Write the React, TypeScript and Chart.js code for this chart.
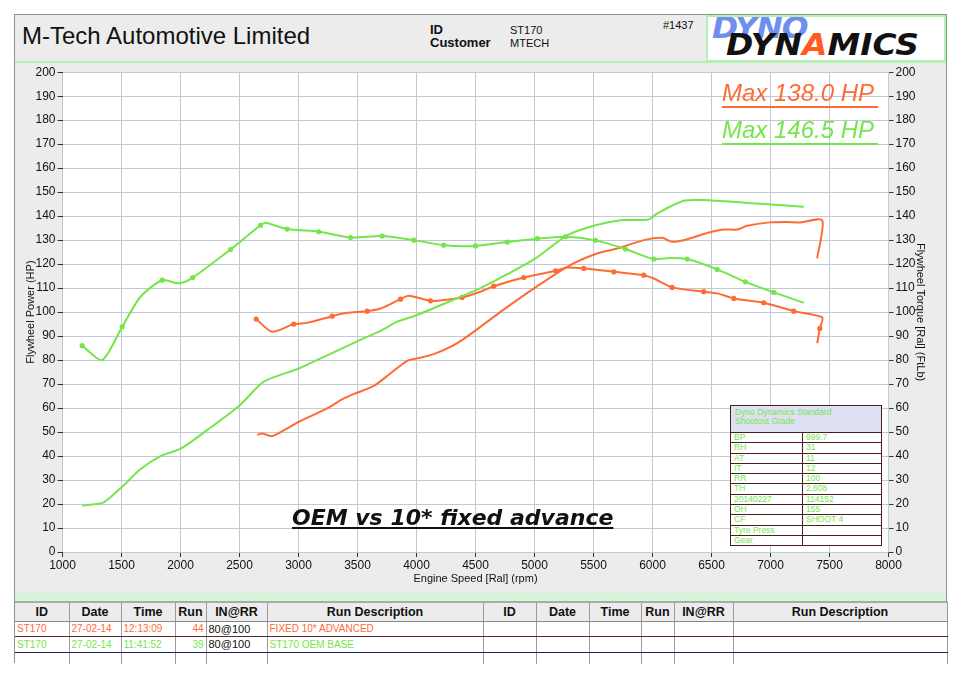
import Chart from 'chart.js/auto';
import { useEffect, useRef } from 'react';

// engine speed (rpm) and readings for each run
const oemPowerRpm = [1167, 1250, 1350, 1506, 1660, 1830, 2006, 2226, 2503, 2706, 3003, 3243, 3497, 3709, 3836, 4006, 4373, 4542, 4770, 5008, 5277, 5517, 5729, 5968, 6039, 6265, 6434, 6802, 7282];
const oemPower = [19.3, 19.8, 20.7, 27.2, 34.5, 40, 43.2, 50.8, 61.2, 71, 76.5, 82, 87.8, 92.5, 96, 98.8, 106.4, 110, 115.8, 122.4, 132, 136.2, 138.3, 138.6, 141.1, 146.4, 146.7, 145.5, 143.9];

const oemTorqueRpm = [1167, 1336, 1506, 1661, 1845, 1986, 2104, 2424, 2678, 2720, 2904, 3172, 3441, 3709, 3977, 4231, 4500, 4769, 5023, 5263, 5517, 5771, 6011, 6153, 6294, 6548, 6788, 7028, 7282];
const oemTorque = [86, 80, 93.9, 106.4, 113.3, 112, 114.4, 126.1, 136.2, 137.2, 134.6, 133.5, 131.1, 131.7, 130, 127.9, 127.6, 129.2, 130.6, 131.4, 129.9, 126.3, 122.1, 122.6, 122.1, 117.8, 112.6, 108.2, 103.9];
const oemTorqueDots = [1167, 1506, 1845, 2104, 2424, 2678, 2904, 3172, 3441, 3709, 3977, 4231, 4500, 4769, 5023, 5263, 5517, 5771, 6011, 6294, 6548, 6788, 7028];

const advPowerRpm = [2650, 2692, 2777, 2904, 3003, 3243, 3384, 3497, 3638, 3780, 3921, 4006, 4147, 4316, 4458, 4712, 5008, 5277, 5517, 5700, 5926, 6081, 6167, 6294, 6463, 6604, 6718, 6802, 7000, 7141, 7254, 7438, 7396];
const advPower = [48.8, 49.4, 48.3, 51.5, 54.3, 59.9, 64, 66.4, 69.2, 74.5, 79.7, 80.7, 82.5, 86.2, 90.8, 100.1, 110.3, 118.9, 124.2, 126.5, 130, 131, 129.3, 130.4, 133, 134.4, 134.4, 136, 137.4, 137.6, 137.4, 138.3, 122.4];

const advTorqueRpm = [2641, 2777, 2960, 3073, 3285, 3412, 3582, 3695, 3864, 3935, 4119, 4288, 4387, 4542, 4655, 4909, 5178, 5277, 5418, 5672, 5926, 6011, 6167, 6434, 6548, 6689, 6943, 7197, 7438, 7418, 7396];
const advTorque = [97.1, 91.8, 95, 95.5, 98.3, 99.7, 100.4, 101.5, 105.4, 106.8, 104.7, 105.4, 106.1, 108.5, 110.8, 114.4, 117.2, 118.6, 118.2, 116.8, 115.4, 114, 110.3, 108.5, 107.8, 105.7, 103.9, 100.4, 97.8, 93.2, 87];
const advTorqueDots = [2641, 2960, 3285, 3582, 3864, 4119, 4387, 4655, 4909, 5178, 5418, 5672, 5926, 6167, 6434, 6689, 6943, 7197, 7418];

const infoLabels = ['BP', 'RH', 'AT', 'IT', 'RR', 'TH', '20140227', 'OH', 'CF', 'Tyre Press', 'Gear'];
const infoValues = ['999.7', '31', '11', '12', '100', '2.608', '114152', '155', 'SHOOT 4', '', ''];

const tableHeads = ['ID', 'Date', 'Time', 'Run', 'IN@RR', 'Run Description', 'ID', 'Date', 'Time', 'Run', 'IN@RR', 'Run Description'];
const colWidths = [54, 52, 54, 31, 61, 216, 53, 53, 52, 33, 59, 214];
const runAdvanced = ['ST170', '27-02-14', '12:13:09', '44', '80@100', 'FIXED 10* ADVANCED'];
const runOem = ['ST170', '27-02-14', '11:41:52', '39', '80@100', 'ST170 OEM BASE'];

const ORANGE = '#ff6a35';
const GREEN = '#74e64b';
const NARROW = "'Liberation Sans Narrow', 'Liberation Sans', Arial, sans-serif";
const SANS = "'Liberation Sans', Arial, sans-serif";

const pts = (xs: number[], ys: number[]) => xs.map((x, i) => ({ x, y: ys[i] }));

const DynoChart = () => {
  const chartRef = useRef<HTMLCanvasElement | null>(null);

  useEffect(() => {
    if (!chartRef.current) return;
    const ctx = chartRef.current.getContext('2d');
    if (!ctx) return;

    const whiteArea = {
      id: 'whiteArea',
      beforeDraw: (chart: Chart) => {
        const { left, top, width, height } = chart.chartArea;
        chart.ctx.save();
        chart.ctx.fillStyle = '#ffffff';
        chart.ctx.fillRect(left, top, width, height);
        chart.ctx.restore();
      },
    };

    const dotted = (dots: number[]) => (c: any) => (c.raw && dots.includes(c.raw.x) ? 2.6 : 0);
    const plain = (v: any) => String(v);

    const tickFont = { family: NARROW, size: 12 };

    const chartInstance = new Chart(ctx, {
      type: 'line',
      data: {
        datasets: [
          { label: 'OEM power', data: pts(oemPowerRpm, oemPower), borderColor: GREEN, backgroundColor: GREEN, yAxisID: 'y', pointRadius: 0 },
          { label: 'OEM torque', data: pts(oemTorqueRpm, oemTorque), borderColor: GREEN, backgroundColor: GREEN, yAxisID: 'y2', pointRadius: dotted(oemTorqueDots) },
          { label: 'Advanced power', data: pts(advPowerRpm, advPower), borderColor: ORANGE, backgroundColor: ORANGE, yAxisID: 'y', pointRadius: 0 },
          { label: 'Advanced torque', data: pts(advTorqueRpm, advTorque), borderColor: ORANGE, backgroundColor: ORANGE, yAxisID: 'y2', pointRadius: dotted(advTorqueDots) },
        ],
      },
      options: {
        animation: false,
        responsive: false,
        maintainAspectRatio: false,
        layout: { padding: { top: 9, left: 0, right: 0, bottom: 0 } },
        elements: {
          line: { borderWidth: 2, tension: 0.25 },
          point: { borderWidth: 0, hoverRadius: 0 },
        },
        plugins: { legend: { display: false }, tooltip: { enabled: false } },
        scales: {
          x: {
            type: 'linear',
            min: 1000,
            max: 8000,
            ticks: { stepSize: 500, color: '#111', font: tickFont, padding: 1, maxRotation: 0, callback: plain },
            grid: { color: '#c3c8d4', tickColor: '#333', tickLength: 5 },
            border: { display: false },
            title: { display: true, text: 'Engine Speed [Ral] (rpm)', color: '#111', font: { family: NARROW, size: 11 }, padding: { top: 0, bottom: 7 } },
            afterFit: (s: any) => { s.height = 41; },
          },
          y: {
            position: 'left',
            min: 0,
            max: 200,
            ticks: { stepSize: 10, color: '#111', font: tickFont, padding: 2, callback: plain },
            grid: { color: '#c3c8d4', tickColor: '#333', tickLength: 5 },
            border: { display: false },
            title: { display: true, text: 'Flywheel Power (HP)', color: '#111', font: { family: NARROW, size: 11 }, padding: { top: 9, bottom: 0 } },
            afterFit: (s: any) => { s.width = 47.5; },
          },
          y2: {
            position: 'right',
            min: 0,
            max: 200,
            ticks: { stepSize: 10, color: '#111', font: tickFont, padding: 2, callback: plain },
            grid: { drawOnChartArea: false, tickColor: '#333', tickLength: 5 },
            border: { display: false },
            title: { display: true, text: 'Flywheel Torque [Ral] (FtLb)', color: '#111', font: { family: NARROW, size: 11 }, padding: { top: 18, bottom: 0 } },
            afterFit: (s: any) => { s.width = 56.5; },
          },
        },
      },
      plugins: [whiteArea],
    });

    return () => {
      chartInstance.destroy();
    };
  }, []);

  return <canvas ref={chartRef} width={930} height={530} style={{ position: 'absolute', left: 15, top: 63, width: 930, height: 530 }}></canvas>;
};

const abs = (left: number, top: number, extra: React.CSSProperties = {}): React.CSSProperties => ({ position: 'absolute', left, top, ...extra });

const App = () => {
  const cell: React.CSSProperties = { borderRight: '1px solid #9a9a9a', padding: '0 2px', whiteSpace: 'nowrap', overflow: 'hidden' };
  const logoFont = "'DejaVu Sans', sans-serif";
  return (
    <div style={{ position: 'fixed', left: 0, top: 0, width: 960, height: 679, background: '#ffffff', fontFamily: SANS, overflow: 'hidden' }}>
      <div style={abs(14, 14, { width: 931, height: 647, background: '#ececec', border: '1px solid #869886' })}></div>

      {/* header */}
      <div style={abs(15, 61, { width: 931, height: 2, background: '#b4f0b4' })}></div>
      <div style={abs(22, 22, { fontSize: 24, color: '#111', lineHeight: '28px' })}>M-Tech Automotive Limited</div>
      <div style={abs(430, 23, { fontSize: 13, fontWeight: 'bold', lineHeight: '13px', color: '#111' })}>ID<br />Customer</div>
      <div style={abs(510, 24, { fontSize: 11, lineHeight: '13px', color: '#111', fontFamily: NARROW })}>ST170<br />MTECH</div>
      <div style={abs(663, 19, { fontSize: 11, color: '#111', fontFamily: NARROW })}>#1437</div>
      <div style={abs(706, 15, { width: 236, height: 43, background: '#fff', border: '2px solid #b4f0b4', overflow: 'hidden' })}>
        <div style={abs(4, -7, { fontSize: 30, fontWeight: 900, fontStyle: 'italic', color: '#6f8ff0', fontFamily: logoFont, letterSpacing: -1, transform: 'scaleX(1.05)', transformOrigin: 'left' })}>DYNO</div>
        <div style={abs(18, 9, { fontSize: 31, fontWeight: 900, fontStyle: 'italic', color: '#111', fontFamily: logoFont, letterSpacing: 0, transform: 'scaleX(1.06)', transformOrigin: 'left', whiteSpace: 'nowrap' })}>
          DYN<span style={{ color: '#ff5a1f' }}>A</span>MICS
        </div>
      </div>

      <DynoChart />

      {/* max labels */}
      <div style={abs(722, 80, { fontSize: 24, fontStyle: 'italic', color: ORANGE, width: 156, borderBottom: `2px solid ${ORANGE}`, lineHeight: '26px' })}>Max 138.0 HP</div>
      <div style={abs(722, 117, { fontSize: 24, fontStyle: 'italic', color: GREEN, width: 156, borderBottom: `2px solid ${GREEN}`, lineHeight: '26px' })}>Max 146.5 HP</div>

      {/* caption */}
      <div style={abs(292, 505, { fontSize: 22, fontWeight: 'bold', fontStyle: 'italic', textDecoration: 'underline', color: '#111', fontFamily: logoFont, lineHeight: '26px', whiteSpace: 'nowrap' })}>
        OEM vs 10* fixed advance
      </div>

      {/* info box */}
      <div style={abs(730, 405, { width: 150, background: '#fff', border: '1.5px solid #4a1f1f', fontSize: 8.5, color: GREEN, fontFamily: SANS })}>
        <div style={{ background: '#dfe0f4', height: 22, padding: '2px 4px', lineHeight: '9px', borderBottom: '1.5px solid #4a1f1f' }}>Dyno Dynamics Standard<br />Shootout Grade</div>
        {infoLabels.map((l, i) => (
          <div key={l} style={{ display: 'flex', height: 9.3, lineHeight: '9px', borderBottom: i < infoLabels.length - 1 ? '1.5px solid #4a1f1f' : 'none' }}>
            <div style={{ width: 68, paddingLeft: 3, borderRight: '1.5px solid #4a1f1f' }}>{l}</div>
            <div style={{ paddingLeft: 3 }}>{infoValues[i]}</div>
          </div>
        ))}
      </div>

      {/* run table */}
      <div style={abs(15, 593, { width: 931, height: 8, background: '#d6f5d6' })}></div>
      <table style={{ position: 'absolute', left: 15, top: 601, width: 931, borderCollapse: 'collapse', tableLayout: 'fixed', fontFamily: SANS }}>
        <colgroup>
          {colWidths.map((w, i) => <col key={i} style={{ width: w }} />)}
        </colgroup>
        <tbody>
          <tr style={{ height: 19, background: '#ececec', fontWeight: 'bold', fontSize: 12.5, color: '#111' }}>
            {tableHeads.map((h, i) => <td key={i} style={{ ...cell, textAlign: 'center', borderBottom: '1px solid #888', borderTop: '2px solid #aaa' }}>{h}</td>)}
          </tr>
          {[runAdvanced, runOem].map((r, ri) => (
            <tr key={ri} style={{ height: 15.5, background: '#fff', fontSize: 10, color: ri === 0 ? ORANGE : GREEN, fontFamily: NARROW }}>
              {tableHeads.map((_, i) => (
                <td key={i} style={{ ...cell, borderBottom: ri === 0 ? '1px solid #552a2a' : '1px solid #20205a', textAlign: i === 3 ? 'right' : 'left', color: i === 4 ? '#111' : undefined, fontSize: i === 4 ? 11 : 10, fontFamily: i === 4 ? SANS : NARROW }}>
                  {i < 6 ? r[i] : ''}
                </td>
              ))}
            </tr>
          ))}
          <tr style={{ height: 12, background: '#fff' }}>
            {tableHeads.map((_, i) => <td key={i} style={cell}></td>)}
          </tr>
        </tbody>
      </table>
    </div>
  );
};

export default App;
